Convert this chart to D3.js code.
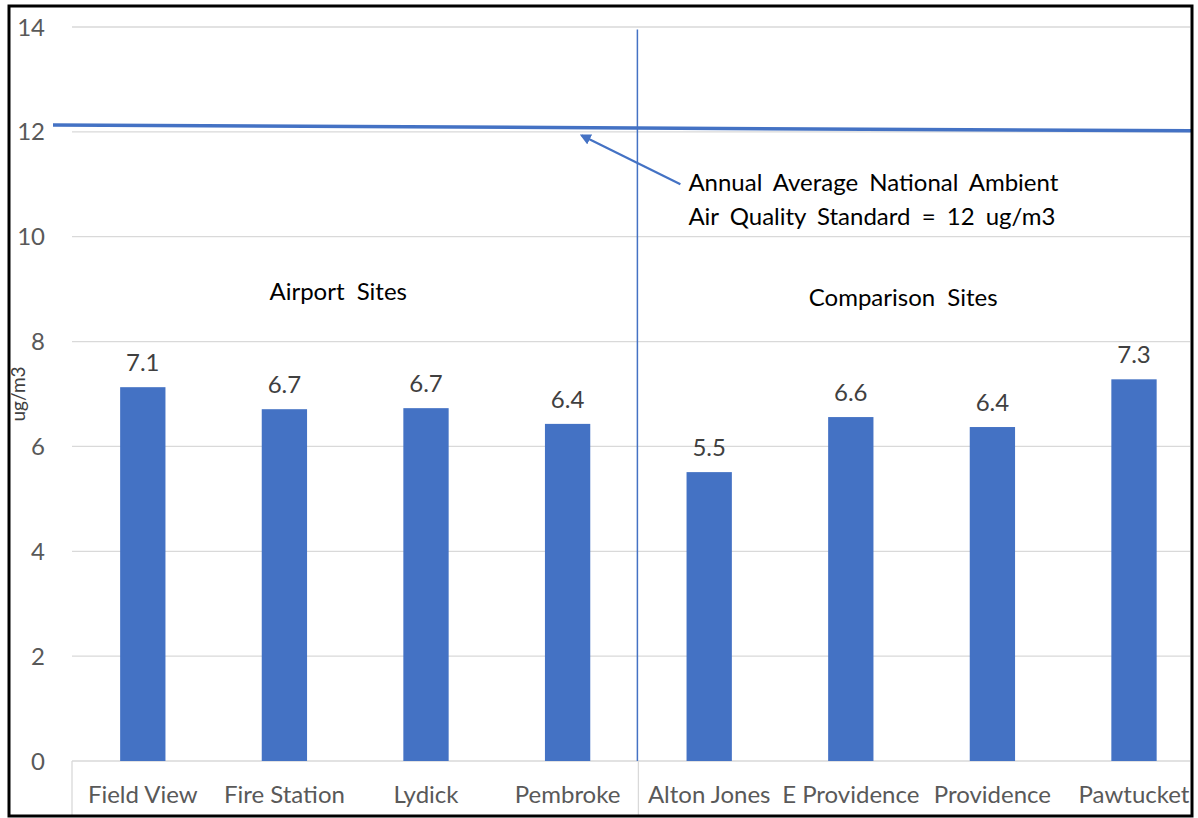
<!DOCTYPE html>
<html>
<head>
<meta charset="utf-8">
<script src="https://cdn.jsdelivr.net/npm/d3@7"></script>
<style>
  body { margin: 0; background: #fff; }
  text { font-family: Lato, "Open Sans", sans-serif; }
</style>
</head>
<body>
<div id="chart"></div>
<script>
// Chart data
const sites = ['Field View', 'Fire Station', 'Lydick', 'Pembroke',
               'Alton Jones', 'E Providence', 'Providence', 'Pawtucket'];
const values = [7.13, 6.71, 6.73, 6.43, 5.51, 6.56, 6.37, 7.28];
const yTicks = [0, 2, 4, 6, 8, 10, 12, 14];
const groups = ['Airport Sites', 'Comparison Sites'];
const standard = 12;   // annual NAAQS, ug/m3
const standardLine = [12.13, 12.02]; // drawn line, slightly tilted as in the picture

const svgWidth = 1198, svgHeight = 818;
const margin = { top: 27, right: -7, bottom: 57, left: 72 };
const bandW = 141.6;

const svg = d3.select('#chart')
    .append('svg')
    .attr('width', svgWidth)
    .attr('height', svgHeight);

// clip everything to the frame
svg.append('clipPath').attr('id', 'frame')
    .append('rect').attr('x', 10).attr('y', 7).attr('width', 1181).attr('height', 808);

const root = svg.append('g').attr('clip-path', 'url(#frame)');

// Scales
const xScale = d3.scaleBand()
    .domain(sites)
    .range([margin.left, margin.left + bandW * sites.length])
    .padding(0);

const yScale = d3.scaleLinear()
    .domain([0, 14])
    .range([svgHeight - margin.bottom, margin.top]);

const plotRight = 1190;

// Gridlines
root.append('g')
    .selectAll('line')
    .data(yTicks.slice(1))
    .enter()
    .append('line')
    .attr('x1', margin.left)
    .attr('x2', plotRight)
    .attr('y1', d => yScale(d))
    .attr('y2', d => yScale(d))
    .attr('stroke', '#d9d9d9')
    .attr('stroke-width', 1.3);

// Y tick labels
root.append('g')
    .selectAll('text')
    .data(yTicks)
    .enter()
    .append('text')
    .attr('x', 45)
    .attr('y', d => yScale(d))
    .attr('dy', '0.36em')
    .attr('text-anchor', 'end')
    .attr('fill', '#595959')
    .style('font-size', '24px')
    .text(d => d);

// Y axis title
root.append('text')
    .attr('transform', `translate(25, ${yScale(7.0)}) rotate(-90)`)
    .attr('text-anchor', 'middle')
    .attr('fill', '#404040')
    .style('font-size', '19px')
    .text('ug/m3');

// Category axis (Excel style box)
const axisY = yScale(0);
root.append('line')
    .attr('x1', margin.left).attr('x2', plotRight)
    .attr('y1', axisY).attr('y2', axisY)
    .attr('stroke', '#d9d9d9').attr('stroke-width', 1.3);

root.append('g')
    .selectAll('line')
    .data([sites[0], sites[4]])
    .enter()
    .append('line')
    .attr('x1', d => xScale(d)).attr('x2', d => xScale(d))
    .attr('y1', axisY).attr('y2', svgHeight)
    .attr('stroke', '#d9d9d9').attr('stroke-width', 1.3);

root.append('g')
    .selectAll('text')
    .data(sites)
    .enter()
    .append('text')
    .attr('x', d => xScale(d) + xScale.bandwidth() / 2)
    .attr('y', axisY + 42)
    .attr('text-anchor', 'middle')
    .attr('fill', '#595959')
    .style('font-size', '24px')
    .text(d => d);

// Bars
const barW = xScale.bandwidth() * 0.32;
root.append('g')
    .selectAll('rect')
    .data(sites)
    .enter()
    .append('rect')
    .attr('x', d => xScale(d) + (xScale.bandwidth() - barW) / 2)
    .attr('y', (d, i) => yScale(values[i]))
    .attr('width', barW)
    .attr('height', (d, i) => yScale(0) - yScale(values[i]))
    .attr('fill', '#4472c4');

// Data labels
root.append('g')
    .selectAll('text')
    .data(sites)
    .enter()
    .append('text')
    .attr('x', d => xScale(d) + xScale.bandwidth() / 2)
    .attr('y', (d, i) => yScale(values[i]) - 16)
    .attr('text-anchor', 'middle')
    .attr('fill', '#404040')
    .style('font-size', '24px')
    .text((d, i) => values[i].toFixed(1));

// Divider between airport and comparison sites
const divX = xScale(sites[4]) - 1;
root.append('line')
    .attr('x1', divX).attr('x2', divX)
    .attr('y1', yScale(13.95)).attr('y2', yScale(0))
    .attr('stroke', '#4472c4')
    .attr('stroke-width', 1.5);

// Group labels
root.append('text')
    .attr('x', xScale(sites[1]) + xScale.bandwidth() * 0.88)
    .attr('y', yScale(8.8))
    .attr('text-anchor', 'middle')
    .attr('fill', '#000')
    .style('font-size', '24px')
    .style('word-spacing', '6px')
    .text(groups[0]);

root.append('text')
    .attr('x', xScale(sites[5]) + xScale.bandwidth() * 0.87)
    .attr('y', yScale(8.68))
    .attr('text-anchor', 'middle')
    .attr('fill', '#000')
    .style('font-size', '24px')
    .style('word-spacing', '6px')
    .text(groups[1]);

// Standard line
root.append('line')
    .attr('x1', 53)
    .attr('x2', plotRight + 2)
    .attr('y1', yScale(standardLine[0]))
    .attr('y2', yScale(standardLine[1]))
    .attr('stroke', '#4472c4')
    .attr('stroke-width', 3.5);

// Annotation arrow
svg.append('defs').append('marker')
    .attr('id', 'arrow')
    .attr('viewBox', '0 0 10 10')
    .attr('refX', 8).attr('refY', 5)
    .attr('markerWidth', 5).attr('markerHeight', 5)
    .attr('orient', 'auto-start-reverse')
    .append('path')
    .attr('d', 'M0,0 L10,5 L0,10 z')
    .attr('fill', '#4472c4');

const tailX = xScale(sites[4]) + 42, tipX = xScale(sites[3]) + 85;
root.append('line')
    .attr('x1', tailX).attr('y1', yScale(11.0))
    .attr('x2', tipX).attr('y2', yScale(11.93))
    .attr('stroke', '#4472c4')
    .attr('stroke-width', 2.2)
    .attr('marker-end', 'url(#arrow)');

const note = root.append('text')
    .attr('x', xScale(sites[4]) + 50)
    .attr('y', yScale(11.0) + 7)
    .attr('fill', '#000')
    .style('font-size', '24px')
    .style('word-spacing', '5px');
note.append('tspan').text('Annual Average National Ambient');
note.append('tspan')
    .attr('x', xScale(sites[4]) + 50)
    .attr('dy', 34)
    .text(`Air Quality Standard = ${standard} ug/m3`);

// Frame
svg.append('rect')
    .attr('x', 9).attr('y', 6)
    .attr('width', 1183).attr('height', 810)
    .attr('fill', 'none')
    .attr('stroke', '#000')
    .attr('stroke-width', 3);
</script>
</body>
</html>
